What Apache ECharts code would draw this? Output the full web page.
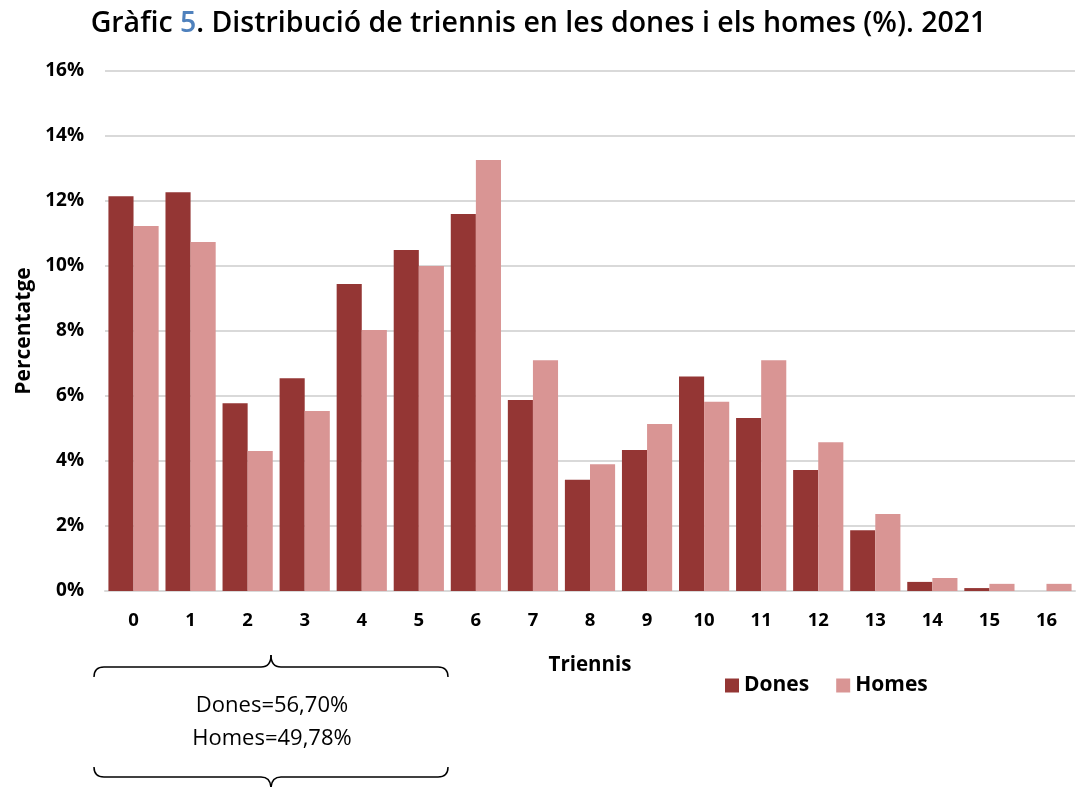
<!DOCTYPE html>
<html>
<head>
<meta charset="utf-8">
<script src="https://cdn.jsdelivr.net/npm/echarts@6/dist/echarts.min.js"></script>
<style>
  html, body { margin: 0; padding: 0; background: #fff; }
  #chart { width: 1077px; height: 787px; }
</style>
</head>
<body>
<div id="chart"></div>
<script>
// categories (triennis) and percentages
const categories = ['0', '1', '2', '3', '4', '5', '6', '7', '8', '9', '10', '11', '12', '13', '14', '15', '16']
const dones = [12.15, 12.27, 5.78, 6.55, 9.45, 10.49, 11.6, 5.88, 3.42, 4.34, 6.6, 5.32, 3.72, 1.87, 0.28, 0.09, 0]
const homes = [11.23, 10.74, 4.31, 5.54, 8.03, 10.0, 13.26, 7.1, 3.9, 5.14, 5.82, 7.1, 4.58, 2.37, 0.4, 0.22, 0.22]
const yTicks = { min: 0, max: 16, interval: 2 }
const totals = ['Dones=56,70%', 'Homes=49,78%']

const chart = echarts.init(document.getElementById('chart'), null, { renderer: 'canvas' })
const axisFont = 'Open Sans'

// curly brace made of lines and quadratic curves, dir = -1 tip up, 1 tip down
function brace (x1, x2, y, dir) {
  const mid = (x1 + x2) / 2
  const r = 10
  const st = { fill: null, stroke: '#000', lineWidth: 1.5 }
  const end = y - dir * r
  const tip = y + dir * 12
  return [
    { type: 'bezierCurve', shape: { x1: x1, y1: end, cpx1: x1, cpy1: y, x2: x1 + r, y2: y }, style: st },
    { type: 'line', shape: { x1: x1 + r, y1: y, x2: mid - r, y2: y }, style: st },
    { type: 'bezierCurve', shape: { x1: mid - r, y1: y, cpx1: mid, cpy1: y, x2: mid, y2: tip }, style: st },
    { type: 'bezierCurve', shape: { x1: mid, y1: tip, cpx1: mid, cpy1: y, x2: mid + r, y2: y }, style: st },
    { type: 'line', shape: { x1: mid + r, y1: y, x2: x2 - r, y2: y }, style: st },
    { type: 'bezierCurve', shape: { x1: x2 - r, y1: y, cpx1: x2, cpy1: y, x2: x2, y2: end }, style: st }
  ]
}

const option = {
  backgroundColor: '#fff',
  animation: false,
  title: {
    text: 'Gràfic {b|5}. Distribució de triennis en les dones i els homes (%). 2021',
    left: 'center',
    top: 4,
    textStyle: {
      fontFamily: 'Open Sans',
      fontWeight: 600,
      fontSize: 28.5,
      color: '#000',
      rich: {
        b: { fontFamily: 'Open Sans', fontWeight: 600, fontSize: 28.5, color: '#4f81bd' }
      }
    }
  },
  legend: {
    data: ['Dones', 'Homes'],
    left: 720,
    top: 670,
    itemWidth: 14,
    itemHeight: 14,
    itemGap: 27,
    icon: 'rect',
    textStyle: { fontFamily: axisFont, fontWeight: 'bold', fontSize: 21, color: '#000' }
  },
  grid: { left: 105, right: 2, top: 71, bottom: 196, containLabel: false, outerBoundsMode: 'none' },
  xAxis: {
    type: 'category',
    data: categories,
    name: 'Triennis',
    nameLocation: 'middle',
    nameGap: 64,
    nameTextStyle: { fontFamily: axisFont, fontWeight: 'bold', fontSize: 20.5, color: '#000' },
    axisLine: { lineStyle: { color: '#d9d9d9', width: 2 } },
    axisTick: { show: false },
    axisLabel: { fontFamily: axisFont, fontWeight: 'bold', fontSize: 18.5, color: '#000', margin: 20 }
  },
  yAxis: {
    type: 'value',
    min: yTicks.min,
    max: yTicks.max,
    interval: yTicks.interval,
    name: 'Percentatge',
    nameLocation: 'middle',
    nameGap: 70,
    nameRotate: 90,
    nameTextStyle: { fontFamily: axisFont, fontWeight: 'bold', fontSize: 21, color: '#000' },
    axisLine: { show: false },
    axisTick: { show: false },
    axisLabel: { formatter: '{value}%', fontFamily: axisFont, fontWeight: 'bold', fontSize: 19, color: '#000', margin: 21 },
    splitLine: { lineStyle: { color: '#d9d9d9', width: 2 } }
  },
  series: [
    {
      name: 'Dones',
      type: 'bar',
      data: dones,
      barGap: '0%',
      barCategoryGap: '12%',
      itemStyle: { color: '#943634' }
    },
    {
      name: 'Homes',
      type: 'bar',
      data: homes,
      itemStyle: { color: '#d99594' }
    }
  ],
  graphic: [
    ...brace(94, 448, 667, -1),
    ...brace(94, 448, 777, 1),
    {
      type: 'text',
      x: 272,
      y: 706,
      style: { text: totals[0], fontFamily: 'Open Sans', fontSize: 22, fill: '#000', align: 'center', verticalAlign: 'middle' }
    },
    {
      type: 'text',
      x: 272,
      y: 739,
      style: { text: totals[1], fontFamily: 'Open Sans', fontSize: 22, fill: '#000', align: 'center', verticalAlign: 'middle' }
    }
  ]
}

chart.setOption(option)
</script>
</body>
</html>
